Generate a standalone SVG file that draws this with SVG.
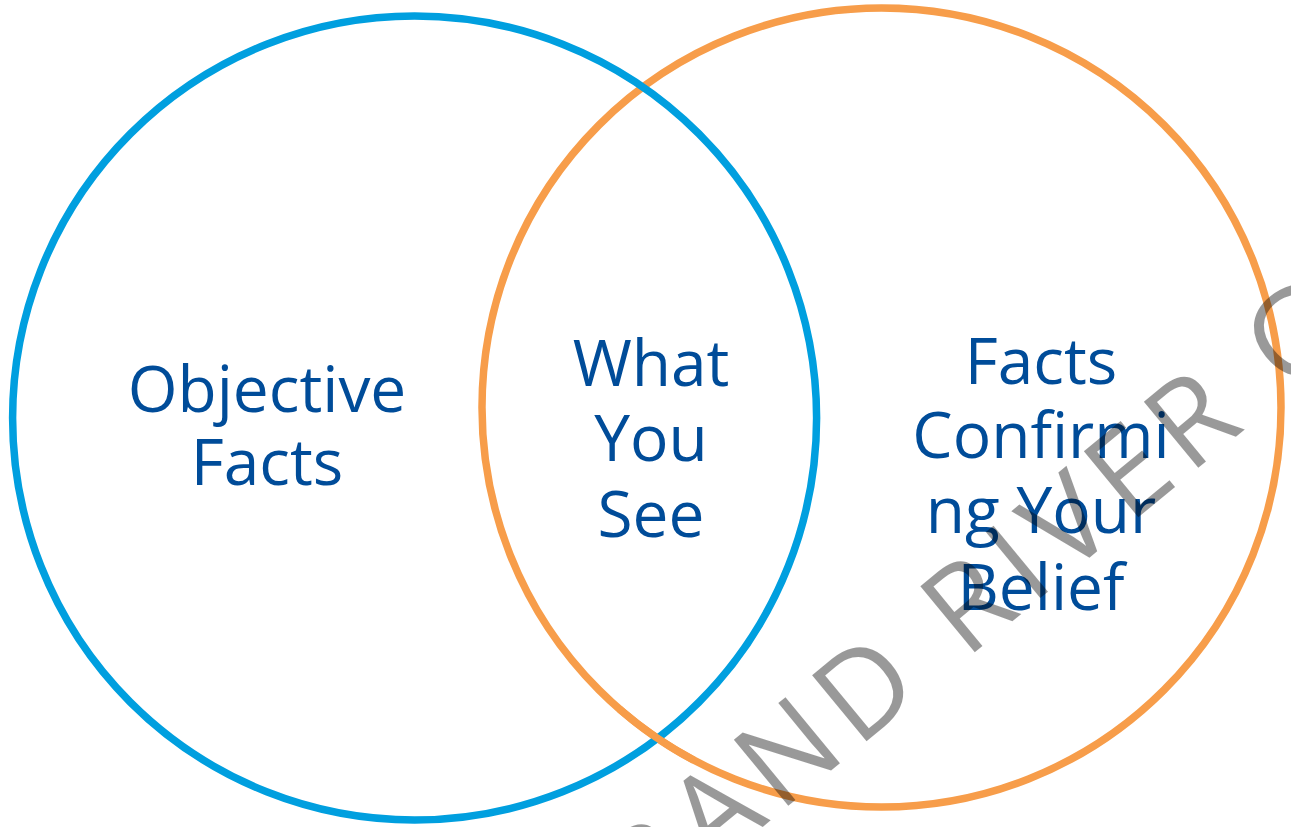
<svg xmlns="http://www.w3.org/2000/svg" width="1291" height="827" viewBox="0 0 1291 827">
<style>
.ring{fill:none;stroke-width:7.5}
.blue{stroke:#009FDF}
.orange{stroke:#F79D4A}
.lbl{font-family:"Open Sans","Noto Sans","Liberation Sans",sans-serif;font-size:64px;fill:#004C99;text-anchor:middle}
.wm{font-family:"Open Sans","Noto Sans","Liberation Sans",sans-serif;font-size:120px;font-weight:400;letter-spacing:11px;fill:#000;fill-opacity:0.4}
</style>
<rect width="1291" height="827" fill="#fff"/>
<g id="circle-belief">
<circle class="ring orange" cx="881.5" cy="407.5" r="399.5"/>
</g>
<g id="circle-objective">
<circle class="ring blue" cx="414.6" cy="418" r="402"/>
</g>
<g id="crossing-bottom">
<path class="ring orange" d="M 693.9 760.2 A 399.5 399.5 0 0 1 619.4 709.0"/>
</g>
<g id="label-objective">
<text class="lbl" x="267" y="412">Objective</text>
<text class="lbl" x="267" y="485">Facts</text>
</g>
<g id="label-overlap">
<text class="lbl" x="651" y="386">What</text>
<text class="lbl" x="651" y="461">You</text>
<text class="lbl" x="651" y="537">See</text>
</g>
<g id="label-belief">
<text class="lbl" x="1041" y="384">Facts</text>
<text class="lbl" x="1041" y="458">Confirmi</text>
<text class="lbl" x="1041" y="533">ng Your</text>
<text class="lbl" x="1041" y="610">Belief</text>
</g>
<g id="connectors"></g>
<g id="watermark">
<text class="wm" transform="translate(776,816) rotate(-39.5)" x="-266" y="0">GRAND RIVER C</text>
</g>
</svg>
